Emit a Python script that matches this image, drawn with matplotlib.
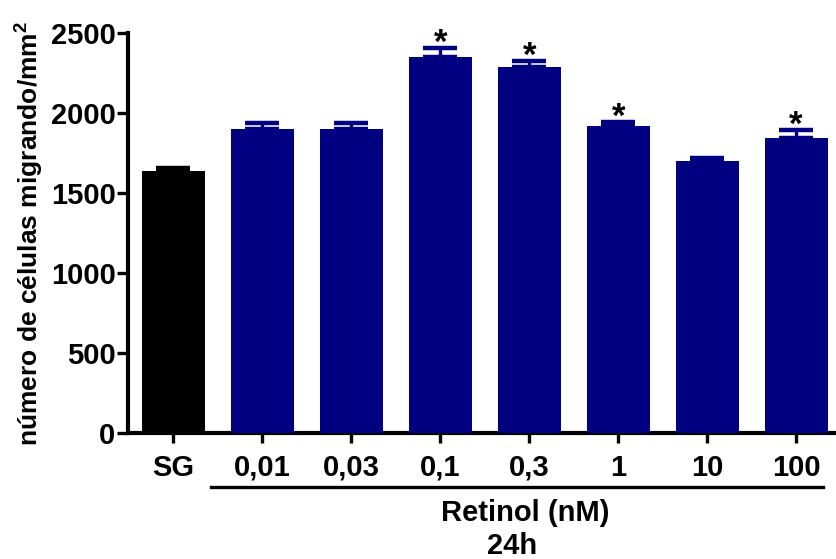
import matplotlib.pyplot as plt
import numpy as np

plt.rcParams['font.family'] = ['Liberation Sans', 'DejaVu Sans']
plt.rcParams['font.weight'] = 'bold'
plt.rcParams['mathtext.fontset'] = 'custom'
plt.rcParams['mathtext.bf'] = 'Liberation Sans:bold'
plt.rcParams['mathtext.rm'] = 'Liberation Sans:bold'

# data
groups = ["SG", "0,01", "0,03", "0,1", "0,3", "1", "10", "100"]
means = [1640, 1900, 1900, 2352, 2285, 1921, 1700, 1842]
errors = [16, 36, 38, 52, 40, 20, 18, 50]
significant = [False, False, False, True, True, True, False, True]
colors = ["black"] + ["#000080"] * 7

fig = plt.figure(figsize=(8.37, 5.59), dpi=100)
ax = fig.add_axes([0.153, 0.2254, 0.846, 0.7156])

x = np.arange(len(groups))
ax.bar(x, means, width=0.71, color=colors, zorder=3)
for xi, m, e, c in zip(x, means, errors, colors):
    ax.errorbar(xi, m, yerr=[[0], [e]], color=c, elinewidth=2.4,
                capsize=12, capthick=3.2, zorder=2)

# significance marks
for xi, m, e, s in zip(x, means, errors, significant):
    if s:
        ax.text(xi, m + e - 30, "*", ha="center", va="baseline",
                fontsize=25, fontweight="bold", color="black")

ax.set_xlim(-0.51, 7.45)
ax.set_ylim(0, 2500)
ax.set_yticks([0, 500, 1000, 1500, 2000, 2500])
ax.set_xticks(x)
ax.set_xticklabels(groups)

for side in ["top", "right"]:
    ax.spines[side].set_visible(False)
for side in ["left", "bottom"]:
    ax.spines[side].set_linewidth(3)

ax.tick_params(axis="y", length=8, width=2.4, labelsize=21, pad=1)
ax.tick_params(axis="x", length=7, width=2.4, labelsize=21, pad=8)

ax.set_ylabel(r"número de células migrando/mm$^{\mathbf{2}}$", fontsize=19,
              fontweight="bold", labelpad=4)

# group bracket under the retinol doses
trans = ax.get_xaxis_transform()
ax.plot([0.42, 7.30], [-0.135, -0.135], color="black", lw=2.4,
        transform=trans, clip_on=False)
ax.text(3.95, -0.2, "Retinol (nM)", transform=trans, ha="center",
        va="center", fontsize=21, fontweight="bold")
ax.text(3.81, -0.282, "24h", transform=trans, ha="center",
        va="center", fontsize=21, fontweight="bold")

fig.savefig("out.png", dpi=100)
